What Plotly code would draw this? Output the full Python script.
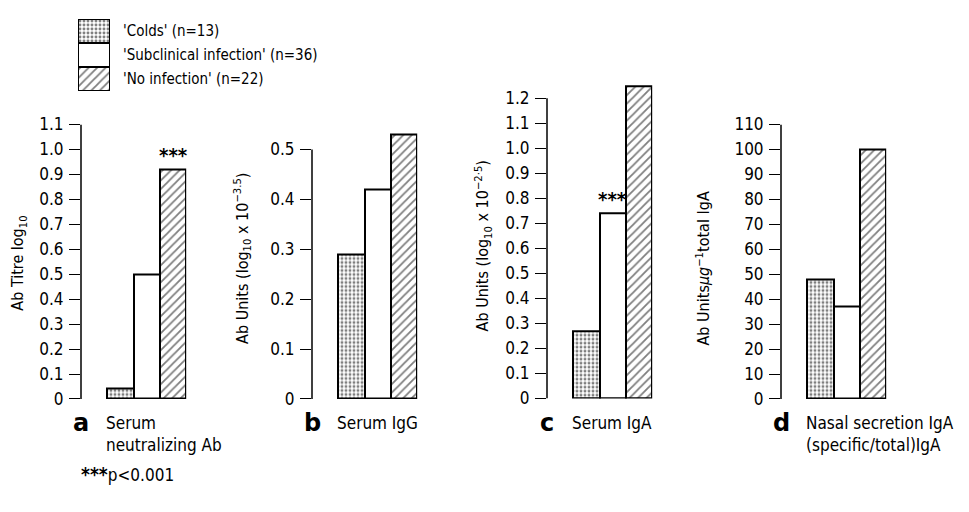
import plotly.graph_objects as go

PAGE_W, PAGE_H = 969, 512
OFF = 8  # default page body margin in the browser
W, H = PAGE_W - 2 * OFF, PAGE_H - 2 * OFF

groups = ["'Colds' (n=13)", "'Subclinical infection' (n=36)", "'No infection' (n=22)"]
panel_letters = ["a", "b", "c", "d"]
panel_names = ["Serum<br>neutralizing Ab", "Serum IgG", "Serum IgA",
               "Nasal secretion IgA<br>(specific/total)IgA"]
y_titles = ["Ab Titre log<sub>10</sub>",
            "Ab Units (log<sub>10</sub> x 10<sup>−3.5</sup>)",
            "Ab Units (log<sub>10</sub> x 10<sup>−2·5</sup>)",
            "Ab Units<i>μg</i><sup>−1</sup>total IgA"]

vals_a = [0.04, 0.50, 0.92]
vals_b = [0.29, 0.42, 0.53]
vals_c = [0.27, 0.74, 1.25]
vals_d = [48, 37, 100]
values = [vals_a, vals_b, vals_c, vals_d]

ticks_a = [0, 0.1, 0.2, 0.3, 0.4, 0.5, 0.6, 0.7, 0.8, 0.9, 1.0, 1.1]
ticks_b = [0, 0.1, 0.2, 0.3, 0.4, 0.5]
ticks_c = [0, 0.1, 0.2, 0.3, 0.4, 0.5, 0.6, 0.7, 0.8, 0.9, 1.0, 1.1, 1.2]
ticks_d = [0, 10, 20, 30, 40, 50, 60, 70, 80, 90, 100, 110]
tick_labels_a = ["0", "0.1", "0.2", "0.3", "0.4", "0.5", "0.6", "0.7", "0.8", "0.9", "1.0", "1.1"]
tick_labels_b = ["0", "0.1", "0.2", "0.3", "0.4", "0.5"]
tick_labels_c = ["0", "0.1", "0.2", "0.3", "0.4", "0.5", "0.6", "0.7", "0.8", "0.9", "1.0", "1.1", "1.2"]
tick_labels_d = ["0", "10", "20", "30", "40", "50", "60", "70", "80", "90", "100", "110"]
ticks = [ticks_a, ticks_b, ticks_c, ticks_d]
tick_labels = [tick_labels_a, tick_labels_b, tick_labels_c, tick_labels_d]

sig_groups = [2, None, 1, None]   # bar carrying *** in each panel
footnote = "<b><span style='font-size:19px'>***</span></b>p<0.001"

FONT = "DejaVu Sans Condensed, Liberation Sans Narrow, DejaVu Sans, sans-serif"

# styles
pat_shapes = [".", "", "/"]
pat_sizes = [4, 8, 6]
pat_solid = [0.42, 0.1, 0.3]


def px(x):
    return min(1.0, max(0.0, (x - OFF) / W))


def py(y):
    return min(1.0, max(0.0, 1 - (y - OFF) / H))


# layout geometry (page pixels): axis x, bottom, top of domain, range max
geom = [
    dict(ax=81, bottom=405, top=119, rmax=1.1),
    dict(ax=312, bottom=405, top=119, rmax=0.55),
    dict(ax=547, bottom=404.5, top=65.5, rmax=1.3),
    dict(ax=781, bottom=405, top=119, rmax=110),
]
unit = 26.3

fig = go.Figure()
layout = dict(width=W, height=H, margin=dict(l=0, r=0, t=0, b=0),
              paper_bgcolor="white", plot_bgcolor="rgba(0,0,0,0)",
              showlegend=False, barmode="overlay", bargap=0,
              font=dict(family=FONT, color="black", size=14))
annotations = []
shapes = []

for i in range(4):
    g = geom[i]
    xa = "x" if i == 0 else f"x{i+1}"
    ya = "y" if i == 0 else f"y{i+1}"
    fig.add_trace(go.Bar(
        x=[0, 1, 2], y=values[i], width=1, xaxis=xa, yaxis=ya,
        marker=dict(color="white", line=dict(color="black", width=2),
                    pattern=dict(shape=pat_shapes, size=pat_sizes, solidity=pat_solid,
                                 fgcolor="black", bgcolor="white", fillmode="overlay")),
        hoverinfo="skip"))
    xkey = "xaxis" if i == 0 else f"xaxis{i+1}"
    ykey = "yaxis" if i == 0 else f"yaxis{i+1}"
    layout[xkey] = dict(domain=[px(g["ax"]), px(g["ax"] + 4 * unit)], range=[-1.5, 2.5],
                        visible=False, anchor=ya, fixedrange=True)
    layout[ykey] = dict(domain=[py(g["bottom"]), py(g["top"])], range=[0, g["rmax"]],
                        anchor=xa, showgrid=False, zeroline=False, showline=False,
                        tickmode="array", tickvals=ticks[i], ticktext=tick_labels[i],
                        ticks="outside", ticklen=11, tickwidth=1.3, tickcolor="black",
                        tickfont=dict(size=17, family=FONT), ticklabelstandoff=2,
                        fixedrange=True)
    # y-axis spine from 0 to the top tick
    shapes.append(dict(type="line", xref=f"{xa} domain", yref=ya, x0=0, x1=0,
                       y0=ticks[i][0], y1=ticks[i][-1], line=dict(color="black", width=1.5)))
    # panel letter and name
    annotations.append(dict(text=f"<b>{panel_letters[i]}</b>", xref="paper", yref="paper",
                            x=px(g["ax"]), y=py(430), xanchor="center", yanchor="middle",
                            showarrow=False, font=dict(size=24, family="DejaVu Sans, sans-serif")))
    annotations.append(dict(text=panel_names[i], xref="paper", yref="paper",
                            x=px(g["ax"] + 23), y=py(418), xanchor="left", yanchor="top",
                            align="left", showarrow=False, font=dict(size=17, family=FONT)))
    if sig_groups[i] is not None:
        k = sig_groups[i]
        annotations.append(dict(text="<b>***</b>", xref=xa, yref=ya, x=k, y=values[i][k],
                                xanchor="center", yanchor="bottom", yshift=0,
                                showarrow=False, font=dict(size=20, family=FONT)))

# y titles
ytitle_pos = [(19, 264), (243, 259), (483, 246), (703, 269)]
for i, (tx, ty) in enumerate(ytitle_pos):
    annotations.append(dict(text=y_titles[i], xref="paper", yref="paper", x=px(tx), y=py(ty),
                            xanchor="center", yanchor="middle", textangle=-90,
                            showarrow=False, font=dict(size=16, family=FONT)))

# legend: stacked boxes as bars on a small axis
bases = [2, 1, 0]
for j in range(3):
    fig.add_trace(go.Bar(
        x=[0], y=[1], base=[bases[j]], width=1, xaxis="x5", yaxis="y5",
        marker=dict(color="white", line=dict(color="black", width=2),
                    pattern=dict(shape=pat_shapes[j], size=pat_sizes[j], solidity=pat_solid[j],
                                 fgcolor="black", bgcolor="white", fillmode="overlay")),
        hoverinfo="skip"))
    annotations.append(dict(text=groups[j], xref="paper", yref="y5", x=px(121), y=bases[j] + 0.5,
                            xanchor="left", yanchor="middle", showarrow=False,
                            font=dict(size=15, family=FONT)))
layout["xaxis5"] = dict(domain=[px(78), px(110)], range=[-0.5, 0.5], visible=False,
                        anchor="y5", fixedrange=True)
layout["yaxis5"] = dict(domain=[py(84), py(9)], range=[0, 3], visible=False,
                        anchor="x5", fixedrange=True)

annotations.append(dict(text=footnote, xref="paper", yref="paper", x=px(79), y=py(483),
                        xanchor="left", yanchor="middle", showarrow=False,
                        font=dict(size=17, family=FONT)))

layout["annotations"] = annotations
layout["shapes"] = shapes
fig.update_layout(**layout)
fig.write_html("out.html")
